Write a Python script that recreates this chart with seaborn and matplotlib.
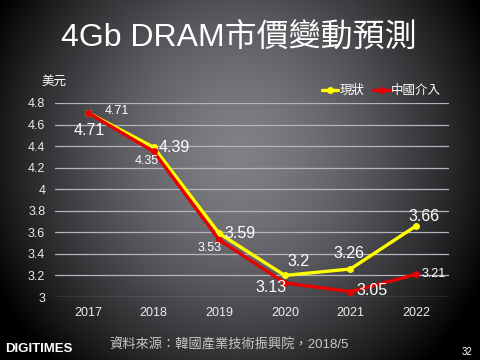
import numpy as np
import pandas as pd
import seaborn as sns
import matplotlib.pyplot as plt
from matplotlib.lines import Line2D

# Données (USD, 4Gb DRAM)
annees = ['2017', '2018', '2019', '2020', '2021', '2022']
prix_statu_quo = [4.71, 4.39, 3.59, 3.2, 3.26, 3.66]
prix_chine = [4.71, 4.35, 3.53, 3.13, 3.05, 3.21]
series = ['現狀', '中國介入']

df = pd.DataFrame({
    'annee': annees * 2,
    'prix': prix_statu_quo + prix_chine,
    'serie': [series[0]] * 6 + [series[1]] * 6,
})

sns.set_theme(style="white")
plt.rcParams['font.family'] = ['Liberation Sans', 'Noto Sans CJK TC', 'DejaVu Sans']

fig = plt.figure(figsize=(4.8, 3.6), dpi=100)

# fond en dégradé radial
bg = fig.add_axes([0, 0, 1, 1], zorder=0)
yy, xx = np.mgrid[0:360, 0:480]
r = np.sqrt(((xx - 238) / 275) ** 2 + ((yy - 150) / 290) ** 2)
g = np.clip(1 - r ** 1.5, 0, 1)
img = np.stack([0.5 * g, 0.5 * g, 0.53 * g], axis=-1)
bg.imshow(img, aspect='auto', extent=[0, 1, 0, 1], origin='upper')
bg.axis('off')

ax = fig.add_axes([0.1146, 0.175, 0.8208, 0.539], zorder=1)
ax.set_facecolor('none')

sns.lineplot(data=df, x='annee', y='prix', hue='serie', hue_order=series,
             palette=['#FFFF00', '#E80000'], linewidth=2.4, marker='o',
             markersize=5, markeredgewidth=0, ax=ax, legend=False)

ax.set_ylim(3, 4.8)
ax.set_xlim(-0.5, 5.5)
ax.set_yticks(np.arange(3, 4.81, 0.2))
ax.set_yticklabels(['3', '3.2', '3.4', '3.6', '3.8', '4', '4.2', '4.4', '4.6', '4.8'])
ax.grid(axis='y', color='#b4b4bc', linewidth=0.9)
ax.grid(axis='x', visible=False)
ax.set_axisbelow(True)
for s in ax.spines.values():
    s.set_visible(False)
ax.tick_params(axis='both', colors='#ececec', labelsize=9, length=0, pad=7)
ax.set_xlabel('')
ax.set_ylabel('')

# étiquettes des valeurs
big = dict(color='white', fontsize=11.5)
small = dict(color='white', fontsize=9)
ax.annotate(f'{prix_chine[0]}', (0, prix_chine[0]), xytext=(12, 1), textcoords='offset points', ha='left', va='center', **small)
ax.annotate(f'{prix_statu_quo[0]}', (0, prix_statu_quo[0]), xytext=(1, -13), textcoords='offset points', ha='center', va='center', **big)
ax.annotate(f'{prix_statu_quo[1]}', (1, prix_statu_quo[1]), xytext=(4, 0), textcoords='offset points', ha='left', va='center', **big)
ax.annotate(f'{prix_chine[1]}', (1, prix_chine[1]), xytext=(-5, -7), textcoords='offset points', ha='center', va='center', **small)
ax.annotate(f'{prix_statu_quo[2]}', (2, prix_statu_quo[2]), xytext=(4, 0), textcoords='offset points', ha='left', va='center', **big)
ax.annotate(f'{prix_chine[2]}', (2, prix_chine[2]), xytext=(-7, -6), textcoords='offset points', ha='center', va='center', **small)
ax.annotate(f'{prix_statu_quo[3]}', (3, prix_statu_quo[3]), xytext=(10, 10), textcoords='offset points', ha='center', va='center', **big)
ax.annotate(f'{prix_chine[3]}', (3, prix_chine[3]), xytext=(-10, -3), textcoords='offset points', ha='center', va='center', **big)
ax.annotate(f'{prix_statu_quo[4]}', (4, prix_statu_quo[4]), xytext=(-1, 11), textcoords='offset points', ha='center', va='center', **big)
ax.annotate(f'{prix_chine[4]}', (4, prix_chine[4]), xytext=(4, 1), textcoords='offset points', ha='left', va='center', **big)
ax.annotate(f'{prix_statu_quo[5]}', (5, prix_statu_quo[5]), xytext=(6, 7), textcoords='offset points', ha='center', va='center', **big)
ax.annotate(f'{prix_chine[5]}', (5, prix_chine[5]), xytext=(4, 0), textcoords='offset points', ha='left', va='center', **small)

# légende
handles = [Line2D([], [], color='#FFFF00', lw=2.4, marker='o', ms=5, mew=0),
           Line2D([], [], color='#E80000', lw=2.4, marker='o', ms=5, mew=0)]
leg = fig.legend(handles, series, loc='center', bbox_to_anchor=(0.795, 0.747), ncol=2,
                 frameon=False, fontsize=9, handlelength=1.3, handletextpad=0.1,
                 columnspacing=0.7)
for t in leg.get_texts():
    t.set_color('white')

fig.text(0.113, 0.772, '美元', color='white', fontsize=9, ha='center', va='center')
fig.text(0.497, 0.893, '4Gb DRAM市價變動預測', color='white', fontsize=23, ha='center', va='center')
fig.text(0.477, 0.042, '資料來源：韓國產業技術振興院，2018/5', color='#c8c8c8', fontsize=9.5, ha='center', va='center')
fig.text(0.01, 0.03, 'DIGITIMES', color='white', fontsize=9.5, weight='bold', ha='left', va='center')
fig.text(0.985, 0.022, '32', color='white', fontsize=7, ha='right', va='center')

fig.savefig('out.png', dpi=100)
